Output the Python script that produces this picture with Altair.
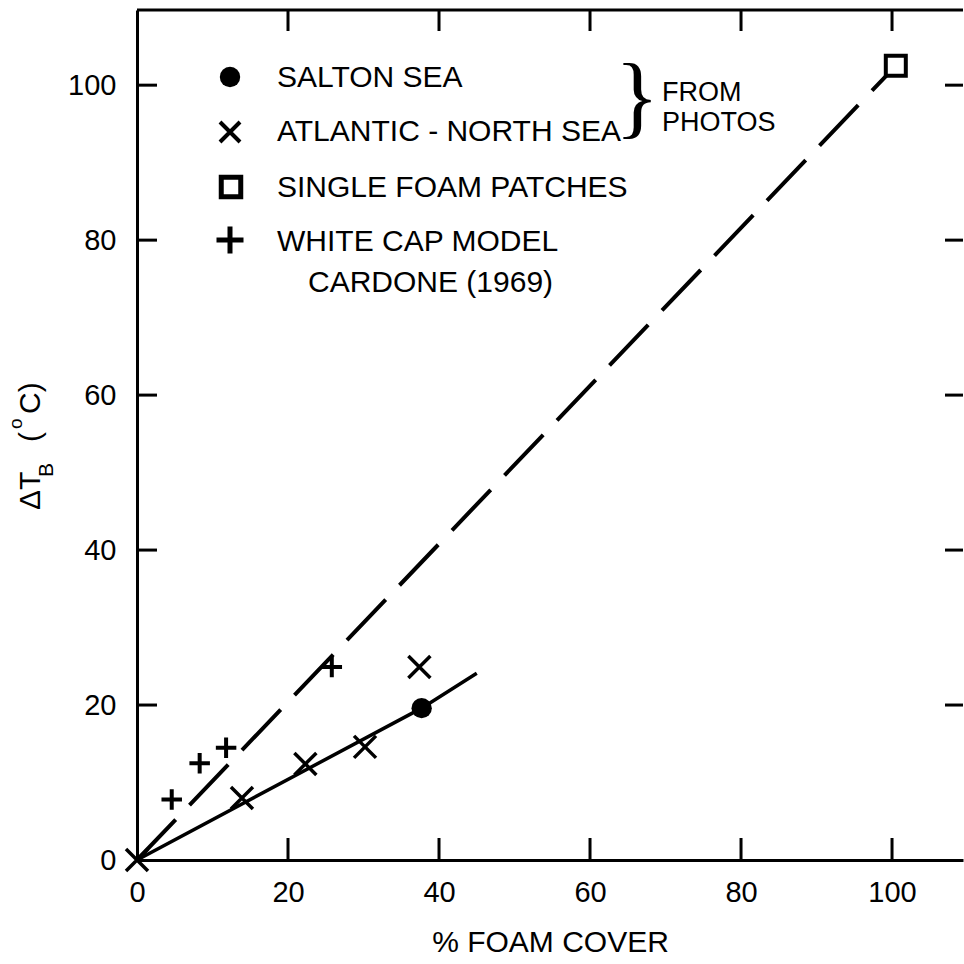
import altair as alt
import pandas as pd

# ---------------- data ----------------
salton_x = [37.7]
salton_y = [19.6]
atlantic_x = [0.0, 13.9, 22.3, 30.2, 37.4]
atlantic_y = [0.0, 8.0, 12.4, 14.6, 24.9]
patch_x = [100.5]
patch_y = [102.5]
whitecap_x = [4.6, 8.3, 11.8, 25.8]
whitecap_y = [7.8, 12.5, 14.5, 24.9]
solid_x = [0.0, 37.7, 45.0]
solid_y = [0.0, 19.6, 24.1]
dash_x = [0.0, 100.5]
dash_y = [0.0, 102.5]
tick_values = [0, 20, 40, 60, 80, 100]
legend_labels = ["SALTON SEA", "ATLANTIC - NORTH SEA", "SINGLE FOAM PATCHES",
                 "WHITE CAP MODEL", "CARDONE (1969)"]
x_title = "% FOAM COVER"

# ---------------- layout ----------------
W, H = 826, 850
XMAX, YMAX = 109.4, 109.7
FONT = "Liberation Sans"
NUMFONT = "Liberation Sans"

xs = alt.Scale(domain=[0, XMAX], nice=False, zero=False)
ys = alt.Scale(domain=[0, YMAX], nice=False, zero=False)

xa = alt.Axis(values=tick_values, ticks=False, tickSize=0, grid=False, domain=True,
              domainColor="black", domainWidth=3, labelFont=NUMFONT, labelFontSize=29,
              labelColor="black", labelPadding=18, format="d", labelFlush=False,
              titleFont=FONT, titleFontSize=30, titleFontWeight="normal",
              titleColor="black", titlePadding=20)
ya = alt.Axis(values=tick_values, ticks=False, tickSize=0, grid=False, domain=True,
              domainColor="black", domainWidth=3, labelFont=NUMFONT, labelFontSize=29,
              labelColor="black", labelPadding=21, format="d", labelFlush=False,
              title="")


def X(field):
    return alt.X(field, type="quantitative", scale=xs, axis=xa, title=x_title)


def Y(field):
    return alt.Y(field, type="quantitative", scale=ys, axis=ya, title="")


solid_df = pd.DataFrame({"x": solid_x, "y": solid_y})
dash_df = pd.DataFrame({"x": dash_x, "y": dash_y})
salton_df = pd.DataFrame({"x": salton_x, "y": salton_y})
atl_df = pd.DataFrame({"x": atlantic_x, "y": atlantic_y})
patch_df = pd.DataFrame({"x": patch_x, "y": patch_y})
wc_df = pd.DataFrame({"x": whitecap_x, "y": whitecap_y})
tick_df = pd.DataFrame({"v": tick_values[1:]})

XPATH = "M-1,-1L1,1M-1,1L1,-1"
PPATH = "M-1,0L1,0M0,-1L0,1"

layers = []

# fitted lines
layers.append(alt.Chart(dash_df).mark_line(color="black", strokeWidth=4, strokeDash=[56, 20],
                                           strokeCap="butt")
              .encode(x=X("x"), y=Y("y")))
layers.append(alt.Chart(solid_df).mark_line(color="black", strokeWidth=3.5)
              .encode(x=X("x"), y=Y("y")))

# data points
layers.append(alt.Chart(salton_df).mark_point(shape="circle", filled=True, color="black",
                                              size=415, opacity=1)
              .encode(x=X("x"), y=Y("y")))
layers.append(alt.Chart(atl_df).mark_point(shape=XPATH, filled=False, stroke="black",
                                           strokeWidth=3.5, size=484, opacity=1)
              .encode(x=X("x"), y=Y("y")))
layers.append(alt.Chart(wc_df).mark_point(shape=PPATH, filled=False, stroke="black",
                                          strokeWidth=4, size=420, opacity=1)
              .encode(x=X("x"), y=Y("y")))
layers.append(alt.Chart(patch_df).mark_point(shape="square", fill="white", stroke="black",
                                             strokeWidth=4, size=400, opacity=1,
                                             fillOpacity=1)
              .encode(x=X("x"), y=Y("y")))

# inward ticks on the four sides
layers.append(alt.Chart(tick_df).mark_rule(color="black", strokeWidth=3)
              .encode(x=X("v"), y=alt.value(H), y2=alt.value(H - 22)))
layers.append(alt.Chart(tick_df).mark_rule(color="black", strokeWidth=3)
              .encode(x=X("v"), y=alt.value(0), y2=alt.value(21)))
layers.append(alt.Chart(tick_df).mark_rule(color="black", strokeWidth=3)
              .encode(y=Y("v"), x=alt.value(0), x2=alt.value(20)))
layers.append(alt.Chart(tick_df).mark_rule(color="black", strokeWidth=3)
              .encode(y=Y("v"), x=alt.value(W), x2=alt.value(W - 18)))
# top frame line
layers.append(alt.Chart(tick_df.head(1)).mark_rule(color="black", strokeWidth=3)
              .encode(x=alt.value(0), x2=alt.value(W), y=alt.value(0)))

# legend (drawn inside the plot)
one = pd.DataFrame({"k": [0]})
layers.append(alt.Chart(one).mark_point(shape="circle", filled=True, color="black",
                                        size=415, opacity=1)
              .encode(x=alt.value(93), y=alt.value(67)))
layers.append(alt.Chart(one).mark_point(shape=XPATH, filled=False, stroke="black",
                                        strokeWidth=4, size=400, opacity=1)
              .encode(x=alt.value(93), y=alt.value(122)))
layers.append(alt.Chart(one).mark_point(shape="square", fill="white", stroke="black",
                                        strokeWidth=5, size=380, opacity=1, fillOpacity=1)
              .encode(x=alt.value(94), y=alt.value(177)))
layers.append(alt.Chart(one).mark_point(shape=PPATH, filled=False, stroke="black",
                                        strokeWidth=5, size=729, opacity=1)
              .encode(x=alt.value(93), y=alt.value(230)))

legend_pos = [(140, 68), (140, 122), (140, 178), (140, 232), (171, 273)]
for lab, (px, py) in zip(legend_labels, legend_pos):
    layers.append(alt.Chart(pd.DataFrame({"t": [lab]}))
                  .mark_text(font=FONT, fontSize=30, align="left", baseline="middle",
                             color="black")
                  .encode(text="t:N", x=alt.value(px), y=alt.value(py)))

# brace + "FROM PHOTOS"
layers.append(alt.Chart(pd.DataFrame({"t": ["}"]}))
              .mark_text(font="Liberation Serif", fontSize=92, align="center",
                         baseline="middle", color="black")
              .encode(text="t:N", x=alt.value(500), y=alt.value(89)))
for lab, py in [("FROM", 83), ("PHOTOS", 113)]:
    layers.append(alt.Chart(pd.DataFrame({"t": [lab]}))
                  .mark_text(font=FONT, fontSize=27, align="left", baseline="middle",
                             color="black")
                  .encode(text="t:N", x=alt.value(525), y=alt.value(py)))

# rotated y-axis title: ΔT_B (°C)
ytitle_parts = [("ΔT", 30, -106, 500), ("B", 21, -90, 467), ("(", 30, -106, 432),
                ("o", 19, -121, 419), ("C)", 30, -106, 404)]
for txt, fs, px, py in ytitle_parts:
    layers.append(alt.Chart(pd.DataFrame({"t": [txt]}))
                  .mark_text(font=FONT, fontSize=fs, align="left", baseline="middle",
                             angle=270, color="black")
                  .encode(text="t:N", x=alt.value(px), y=alt.value(py)))

chart = alt.layer(*layers).properties(
    width=W, height=H,
    padding={"left": 137, "top": 10, "right": 1, "bottom": 104},
    autosize=alt.AutoSizeParams(type="none"),
    background="white",
).configure_view(strokeWidth=0)

chart.save("out.html", embed_options={"renderer": "svg", "actions": False})
